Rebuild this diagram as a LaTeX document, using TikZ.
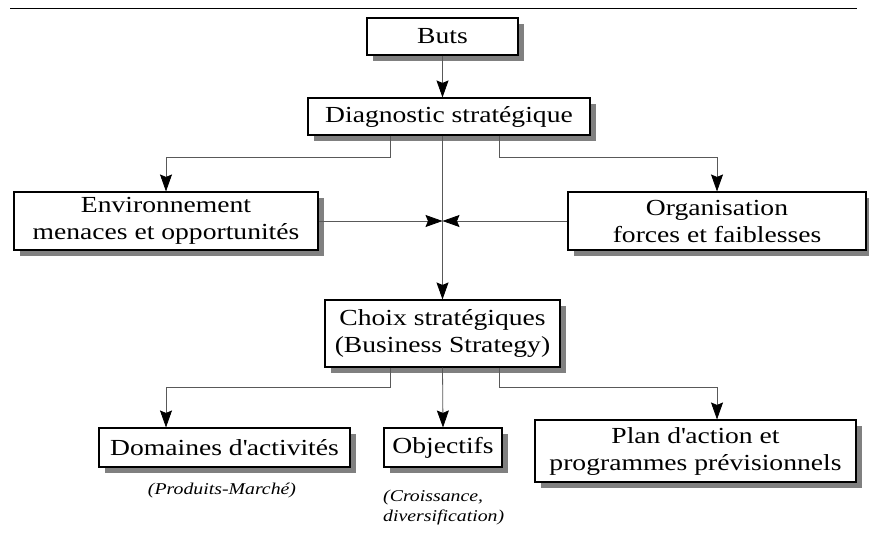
\documentclass[tikz,border=0pt]{standalone}
\usepackage{fontspec}
\setmainfont{Liberation Serif}[FakeStretch=1.2]
\usetikzlibrary{arrows.meta,shadows}

\begin{document}
\begin{tikzpicture}[
x=1pt,y=-1pt,
box/.style={rectangle,draw=black,line width=1.1pt,fill=white,inner sep=2pt,align=center,
  font=\fontsize{23}{27}\selectfont,
  drop shadow={shadow xshift=6pt,shadow yshift=-6pt,fill=black!50,opacity=1}},
flow/.style={draw=black!65,line width=0.8pt,-{Stealth[length=17pt,width=12pt,inset=2.5pt,color=black]}},
note/.style={font=\fontsize{16.5}{20}\selectfont\itshape,align=left,inner sep=0pt}
]
\useasboundingbox (0,0) rectangle (869,533);

% Top rule
\coordinate (rl) at (10,8);
\coordinate (rr) at (857,8);
\draw[line width=1pt] (rl) -- (rr);

% Boxes
\node [box,minimum width=151pt,minimum height=37pt] (buts)  at (442.5,36.5) {Buts};
\node [box,minimum width=282pt,minimum height=37pt] (diag)  at (449,116.5) {Diagnostic stratégique};
\node [box,minimum width=304pt,minimum height=58pt] (env)   at (166,221) {Environnement\\menaces et opportunités};
\node [box,minimum width=298pt,minimum height=58pt] (org)   at (717,221) {Organisation\\forces et faiblesses};
\node [box,minimum width=235pt,minimum height=67pt] (choix) at (442.5,333.5) {Choix stratégiques\\(Business Strategy)};
\node [box,minimum width=251pt,minimum height=39pt] (dom)   at (224.5,447.5) {Domaines d\textquotesingle activités};
\node [box,minimum width=118pt,minimum height=39pt] (obj)   at (443,447.5) {Objectifs};
\node [box,minimum width=321pt,minimum height=62pt] (plan)  at (695.5,451) {Plan d\textquotesingle action et\\programmes prévisionnels};

% Notes
\node [note,anchor=north] (pm) at (222,483) {(Produits-Marché)};
\node [note,anchor=north west] (cd) at (383,490) {(Croissance,\\diversification)};

% Connectors
\coordinate (hub) at (buts.south |- env.east);
\draw [flow] (buts.south) -- (buts.south |- diag.north);
\draw [flow] (buts.south |- diag.south) -- (choix.north);
\draw [flow] ([xshift=-52pt]buts.south |- diag.south) -- ++(0,22) -| (env.north);
\draw [flow] ([xshift=57pt]buts.south |- diag.south) -- ++(0,22) -| (org.north);
\draw [flow] (env.east) -- (hub);
\draw [flow] (org.west) -- (hub);

\draw [flow] ([xshift=-52pt]choix.south) -- ++(0,20) -| (env.north |- dom.north);
\draw [flow] (choix.south) -- (obj.north);
\draw [flow] ([xshift=57pt]choix.south) -- ++(0,20) -| (org.north |- plan.north);
\end{tikzpicture}
\end{document}
